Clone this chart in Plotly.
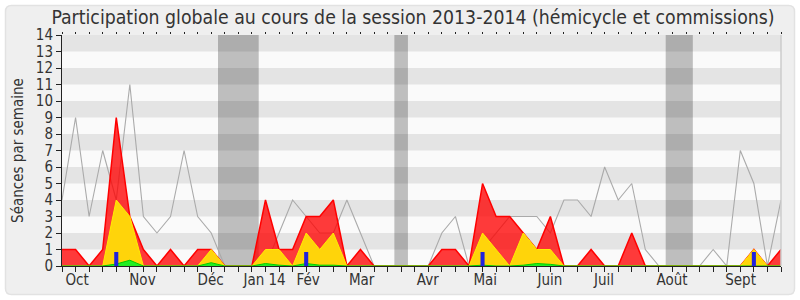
import plotly.graph_objects as go

# ---- data (weekly, session 2013-2014) ----
weeks = list(range(54))
mediane = [4, 9, 3, 7, 4, 11, 3, 2, 3, 7, 3, 2, 0, 0, 0, 0, 2, 4, 3, 2,
           2, 4, 2, 0, 0, 0, 0, 0, 2, 3, 0, 1, 2, 3, 3, 3, 2, 4, 4, 3,
           6, 4, 5, 1, 0, 0, 0, 0, 1, 0, 7, 5, 0, 4]
presences = [1, 1, 0, 1, 9, 3, 1, 0, 1, 0, 1, 1, 0, 0, 0, 4, 1, 1, 3, 3,
             4, 0, 1, 0, 0, 0, 0, 0, 1, 1, 0, 5, 3, 3, 2, 1, 3, 0, 0, 1,
             0, 0, 2, 0, 0, 0, 0, 0, 0, 0, 0, 1, 0, 1]
commission = [0, 0, 0, 0, 4, 3, 0, 0, 0, 0, 0, 1, 0, 0, 0, 1, 1, 0, 2, 1,
              2, 0, 0, 0, 0, 0, 0, 0, 0, 0, 0, 2, 1, 0, 2, 1, 1, 0, 0, 0,
              0, 0, 0, 0, 0, 0, 0, 0, 0, 0, 0, 1, 0, 0]
interventions = [0, 0, 0, 0, 0.12, 0.35, 0, 0, 0, 0, 0, 0.2, 0, 0, 0, 0.15, 0.05, 0, 0.15, 0.05,
                 0.05, 0, 0, 0, 0, 0, 0, 0, 0, 0, 0, 0.05, 0, 0, 0.05, 0.15, 0.1, 0, 0, 0,
                 0, 0, 0, 0, 0, 0, 0, 0, 0, 0, 0, 0, 0, 0]
questions_x = [4, 18, 31, 51]
questions_h = [0.85, 0.85, 0.85, 0.85]
vacances = [(11.5, 14.5), (24.5, 25.5), (44.5, 46.5)]
month_pos = [1.11, 5.93, 10.95, 14.93, 18.14, 22.09, 26.96, 31.2, 35.96, 39.95, 44.97, 50.02]
month_labels = ["Oct", "Nov", "Déc", "Jan 14", "Fév", "Mar", "Avr", "Mai", "Juin", "Juil", "Août", "Sept"]
y_max = 14

FONT = "DejaVu Sans Condensed, DejaVu Sans, sans-serif"
TXT = "#333333"

W, H = 800, 300
ML, MR, MT, MB = 62, 19, 35, 34
PW, PH = W - ML - MR, H - MT - MB

fig = go.Figure()

fig.add_trace(go.Scatter(x=weeks, y=mediane, mode="lines",
                         line=dict(color="#aaaaaa", width=1.1), hoverinfo="skip"))
fig.add_trace(go.Scatter(x=weeks, y=presences, mode="lines", fill="tozeroy",
                         fillcolor="rgba(255,0,0,0.77)",
                         line=dict(color="#ff0000", width=1.5)))
fig.add_trace(go.Scatter(x=weeks, y=commission, mode="lines", fill="tozeroy",
                         fillcolor="#ffd40a",
                         line=dict(color="#ffee00", width=1)))
fig.add_trace(go.Scatter(x=weeks, y=interventions, mode="lines", fill="tozeroy",
                         fillcolor="#22ee22",
                         line=dict(color="#00cc00", width=1)))
fig.add_trace(go.Bar(x=questions_x, y=questions_h, width=0.3,
                     marker=dict(color="#2222dd", line=dict(width=0)),
                     xaxis="x2", yaxis="y2"))

shapes = []
# plot background
shapes.append(dict(type="rect", xref="x domain", yref="y domain", x0=0, x1=1, y0=0, y1=1,
                   fillcolor="#fafafa", line=dict(width=0), layer="below"))
for a, b in vacances:
    shapes.append(dict(type="rect", xref="x", yref="y domain", x0=a, x1=b, y0=0, y1=1,
                       fillcolor="#bebebe", line=dict(width=0), layer="below"))
for k in range(1, y_max, 2):
    shapes.append(dict(type="rect", xref="x domain", yref="y", x0=0, x1=1, y0=k, y1=k + 1,
                       fillcolor="rgba(0,0,0,0.085)", line=dict(width=0), layer="below"))
# right border of plot
shapes.append(dict(type="line", xref="x domain", yref="y domain", x0=1, x1=1, y0=0, y1=1,
                   line=dict(color="#cccccc", width=1.5)))


# outer rounded frame (paper coordinates)
def px(x):
    return (x - ML) / PW


def py(y):
    return (H - MB - y) / PH


x0, x1, y0, y1, r = 5.5, 794.5, 5.5, 294.5, 6
path = (f"M {px(x0 + r)} {py(y0)} L {px(x1 - r)} {py(y0)} Q {px(x1)} {py(y0)} {px(x1)} {py(y0 + r)} "
        f"L {px(x1)} {py(y1 - r)} Q {px(x1)} {py(y1)} {px(x1 - r)} {py(y1)} "
        f"L {px(x0 + r)} {py(y1)} Q {px(x0)} {py(y1)} {px(x0)} {py(y1 - r)} "
        f"L {px(x0)} {py(y0 + r)} Q {px(x0)} {py(y0)} {px(x0 + r)} {py(y0)} Z")
shapes.insert(0, dict(type="path", xref="paper", yref="paper", path=path,
                      fillcolor="#efefef", line=dict(color="#e2e2e2", width=1.5), layer="below"))

fig.update_layout(
    width=W, height=H,
    margin=dict(l=ML, r=MR, t=MT, b=MB, pad=0),
    paper_bgcolor="#ffffff", plot_bgcolor="rgba(0,0,0,0)",
    showlegend=False,
    shapes=shapes,
    font=dict(family=FONT, color=TXT, size=15),
    title=dict(text="Participation globale au cours de la session 2013-2014 (hémicycle et commissions)",
               x=(413 - ML) / PW, xref="paper", xanchor="center", y=0.943, yref="container", yanchor="middle",
               font=dict(family=FONT, size=19.3, color=TXT)),
    xaxis=dict(range=[0, 53], tickvals=month_pos, ticktext=month_labels,
               ticks="outside", ticklen=0, showgrid=False, zeroline=False,
               showline=True, linecolor="#222222", linewidth=1,
               minor=dict(dtick=1, tick0=0, ticks="outside", ticklen=5, tickcolor="#222222", showgrid=False),
               tickfont=dict(family=FONT, size=15, color=TXT)),
    yaxis=dict(range=[0, y_max], dtick=1, tick0=0, ticks="outside", ticklen=5, tickcolor="#222222",
               showgrid=False, zeroline=False, showline=True, linecolor="#222222", linewidth=1,
               tickfont=dict(family=FONT, size=15, color=TXT),
               title=dict(text="Séances par semaine", font=dict(family=FONT, size=15, color=TXT), standoff=8)),
    xaxis2=dict(range=[0, 53], overlaying="x", side="top", showticklabels=False,
                ticks="outside", ticklen=2, tickcolor="#222222", dtick=1, tick0=0,
                showgrid=False, zeroline=False, showline=False),
    yaxis2=dict(range=[0, y_max], overlaying="y", visible=False),
)

fig.write_html("out.html")
